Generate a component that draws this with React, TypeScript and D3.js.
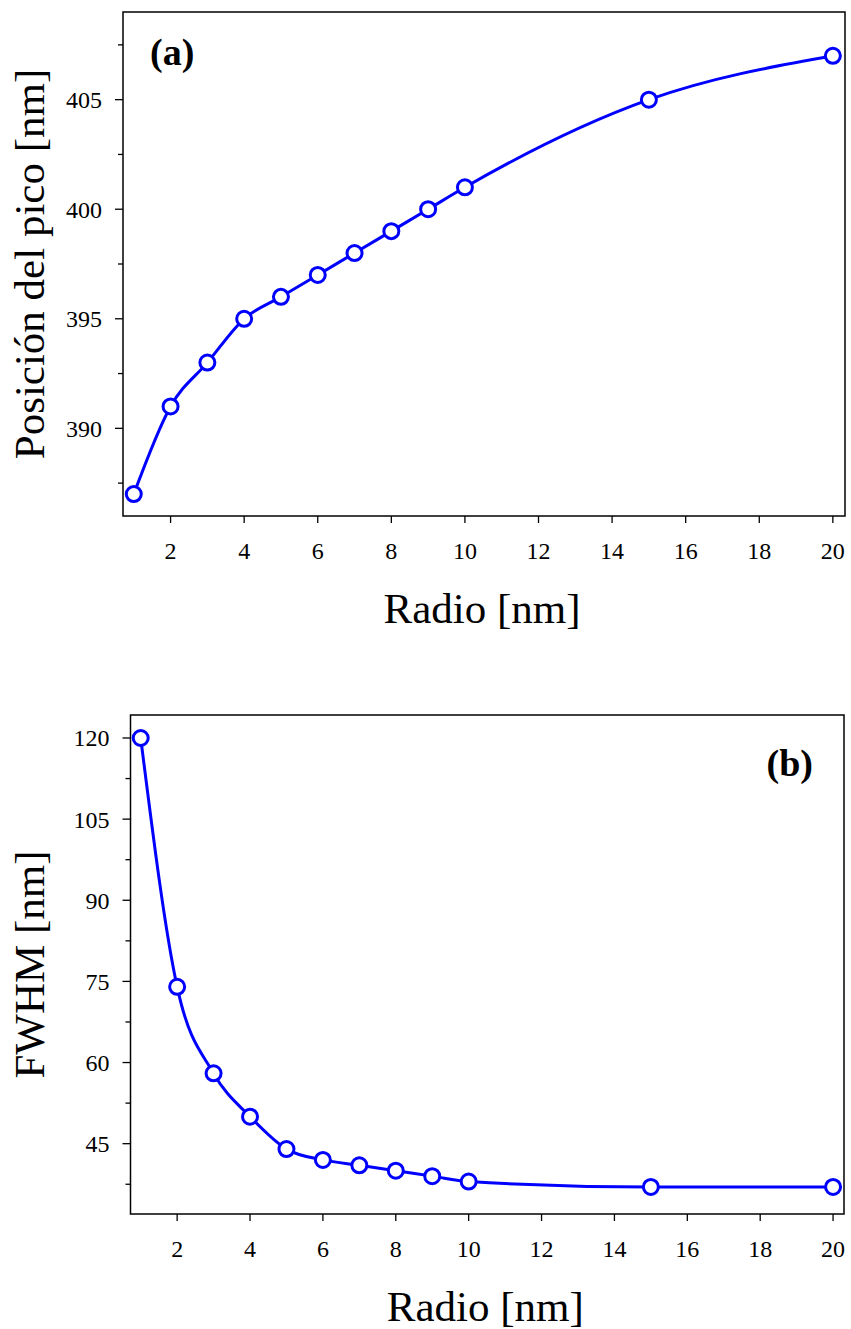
import React from "react";
import * as d3 from "d3";

const radio = [1, 2, 3, 4, 5, 6, 7, 8, 9, 10, 15, 20];
const posicion = [387, 391, 393, 395, 396, 397, 398, 399, 400, 401, 405, 407];
const fwhm = [120, 74, 58, 50, 44, 42, 41, 40, 39, 38, 37, 37];
const xTicks = [2, 4, 6, 8, 10, 12, 14, 16, 18, 20];
const yTicksA = [390, 395, 400, 405];
const yMinorA = [387.5, 392.5, 397.5, 402.5, 407.5];
const yTicksB = [45, 60, 75, 90, 105, 120];
const yMinorB = [37.5, 52.5, 67.5, 82.5, 97.5, 112.5];

const FONT = "'Liberation Serif', 'DejaVu Serif', serif";
const BLUE = "#0000ff";

type PanelProps = {
  x0: number; x1: number; y0: number; y1: number;
  xDomain: [number, number]; yDomain: [number, number];
  ys: number[]; yTicks: number[]; yMinor: number[];
  yLabel: string; tag: string; tagX: number; tagY: number; tagAnchor: string;
};

function Panel(p: PanelProps) {
  const xs = d3.scaleLinear().domain(p.xDomain).range([p.x0, p.x1]);
  const ys = d3.scaleLinear().domain(p.yDomain).range([p.y1, p.y0]);
  const pts = radio.map((r, i) => [r, p.ys[i]] as [number, number]);
  const line = d3.line<[number, number]>()
    .x((d) => xs(d[0]))
    .y((d) => ys(d[1]))
    .curve(d3.curveMonotoneX);
  const cy = (p.y0 + p.y1) / 2;
  return (
    <g>
      <rect x={p.x0} y={p.y0} width={p.x1 - p.x0} height={p.y1 - p.y0}
        fill="none" stroke="#000" strokeWidth={1.5} />
      {xTicks.map((t) => (
        <g key={"x" + t}>
          <line x1={xs(t)} x2={xs(t)} y1={p.y1} y2={p.y1 + 7} stroke="#000" strokeWidth={1.3} />
          <text x={xs(t)} y={p.y1 + 43} textAnchor="middle" fontSize={24} fontFamily={FONT}>{t}</text>
        </g>
      ))}
      {p.yTicks.map((t) => (
        <g key={"y" + t}>
          <line x1={p.x0 - 8} x2={p.x0} y1={ys(t)} y2={ys(t)} stroke="#000" strokeWidth={1.3} />
          <text x={p.x0 - 21} y={ys(t)} dy="0.35em" textAnchor="end" fontSize={24} fontFamily={FONT}>{t}</text>
        </g>
      ))}
      {p.yMinor.map((t) => (
        <line key={"m" + t} x1={p.x0 - 5} x2={p.x0} y1={ys(t)} y2={ys(t)} stroke="#000" strokeWidth={1.3} />
      ))}
      <path d={line(pts) || ""} fill="none" stroke={BLUE} strokeWidth={3} />
      {pts.map((d, i) => (
        <circle key={i} cx={xs(d[0])} cy={ys(d[1])} r={7.5} fill="#fff" stroke={BLUE} strokeWidth={3} />
      ))}
      <text x={(p.x0 + p.x1) / 2 - 2} y={p.y1 + 107} textAnchor="middle" fontSize={43} fontFamily={FONT}>Radio [nm]</text>
      <text transform={`translate(${44},${cy}) rotate(-90)`} textAnchor="middle" fontSize={43} fontFamily={FONT}>{p.yLabel}</text>
      <text x={p.tagX} y={p.tagY} textAnchor={p.tagAnchor} fontSize={38} fontWeight="bold" fontFamily={FONT}>{p.tag}</text>
    </g>
  );
}

export default function App() {
  return (
    <svg width={851} height={1329} style={{ display: "block", position: "absolute", left: 0, top: 0 }}>
      <Panel x0={123} x1={845} y0={12} y1={516}
        xDomain={[0.707, 20.33]} yDomain={[386, 409]}
        ys={posicion} yTicks={yTicksA} yMinor={yMinorA}
        yLabel="Posición del pico [nm]" tag="(a)" tagX={150} tagY={65} tagAnchor="start" />
      <Panel x0={130.5} x1={844} y0={715} y1={1214}
        xDomain={[0.72, 20.3]} yDomain={[32, 124.25]}
        ys={fwhm} yTicks={yTicksB} yMinor={yMinorB}
        yLabel="FWHM [nm]" tag="(b)" tagX={813} tagY={776} tagAnchor="end" />
    </svg>
  );
}
